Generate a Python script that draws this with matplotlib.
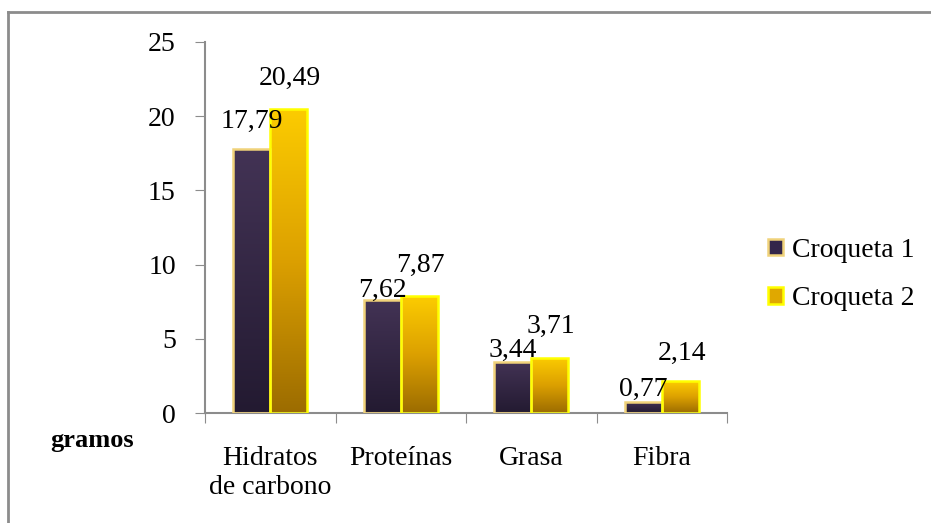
import numpy as np
import matplotlib
matplotlib.use("Agg")
import matplotlib.pyplot as plt
from matplotlib.colors import LinearSegmentedColormap
from matplotlib.patches import Rectangle
from matplotlib.lines import Line2D

categories = ["Hidratos\nde carbono", "Proteínas", "Grasa", "Fibra"]
croqueta1 = [17.79, 7.62, 3.44, 0.77]
croqueta2 = [20.49, 7.87, 3.71, 2.14]
series_names = ["Croqueta 1", "Croqueta 2"]
y_ticks = [0, 5, 10, 15, 20, 25]

# vertical gap (points) between each bar top and its value label
label_gap1 = [11, -2, -1, 0]
label_gap2 = [13, 13, 14, 11]

plt.rcParams["font.family"] = ["Liberation Serif", "DejaVu Serif"]
FS = 20

fig = plt.figure(figsize=(9.31, 5.23), dpi=100)
ax = fig.add_axes([0.2202, 0.2103, 0.5607, 0.7094])

# outer frame lines (left and top)
fig.add_artist(Line2D([8 / 931, 8 / 931], [0, 1 - 12 / 523], transform=fig.transFigure,
                      color="#8c8c8c", lw=2))
fig.add_artist(Line2D([8 / 931, 1], [1 - 12 / 523, 1 - 12 / 523], transform=fig.transFigure,
                      color="#8c8c8c", lw=2))

cmap1 = LinearSegmentedColormap.from_list("c1", ["#231a31", "#433355"])
cmap2 = LinearSegmentedColormap.from_list("c2", ["#9c6c00", "#dca000", "#fccc00"])
grad = np.linspace(0, 1, 256).reshape(-1, 1)

w = 0.285
x = np.arange(len(categories)) + 0.5


def gradient_bars(xs, vals, cmap, edge):
    bars = ax.bar(xs, vals, width=w, color="none", edgecolor=edge, linewidth=1.8, zorder=3)
    for b in bars:
        x0, y0 = b.get_x(), b.get_y()
        bw, bh = b.get_width(), b.get_height()
        im = ax.imshow(grad, extent=[x0, x0 + bw, y0, y0 + bh], origin="lower",
                       cmap=cmap, aspect="auto", zorder=2, interpolation="bicubic")
        im.set_clip_path(Rectangle((x0, y0), bw, bh, transform=ax.transData))
    return bars


gradient_bars(x - w / 2, croqueta1, cmap1, "#f0d27a")
gradient_bars(x + w / 2, croqueta2, cmap2, "#ffff00")

for xi, v, g in zip(x - w / 2, croqueta1, label_gap1):
    ax.annotate(f"{v:.2f}".replace(".", ","), (xi, v), xytext=(0, g),
                textcoords="offset points", ha="center", va="bottom",
                fontsize=FS, zorder=5)
for xi, v, g in zip(x + w / 2, croqueta2, label_gap2):
    ax.annotate(f"{v:.2f}".replace(".", ","), (xi, v), xytext=(1, g),
                textcoords="offset points", ha="center", va="bottom",
                fontsize=FS, zorder=5)

ax.set_xlim(0, len(categories))
ax.set_ylim(0, 25)
ax.set_yticks(y_ticks)
ax.set_yticklabels([str(t) for t in y_ticks], fontsize=FS)
ax.set_xticks(np.arange(len(categories) + 1))
ax.set_xticklabels([])
ax.set_xticks(x, minor=True)
ax.set_xticklabels(categories, minor=True, fontsize=FS, linespacing=1.2)
ax.tick_params(axis="x", which="minor", length=0, pad=24)
ax.tick_params(axis="x", which="major", length=7, color="#8c8c8c", direction="out")
ax.tick_params(axis="y", length=7, color="#8c8c8c", direction="out", pad=14)

for s in ["top", "right"]:
    ax.spines[s].set_visible(False)
for s in ["left", "bottom"]:
    ax.spines[s].set_color("#8c8c8c")
    ax.spines[s].set_linewidth(1.5)

fig.text(50 / 931, 1 - 440 / 523, "gramos", fontsize=19, fontweight="bold",
         ha="left", va="center")

handles = [Rectangle((0, 0), 1, 1, facecolor="#33264a", edgecolor="#f0d27a", lw=1.8),
           Rectangle((0, 0), 1, 1, facecolor="#e0a800", edgecolor="#ffff00", lw=1.8)]
fig.legend(handles, series_names, loc="center left", bbox_to_anchor=(0.825, 0.475),
           frameon=False, fontsize=FS, handlelength=0.55, handleheight=0.55,
           handletextpad=0.3, labelspacing=0.84, borderaxespad=0, borderpad=0)

fig.savefig("out.png", dpi=100, facecolor="white")
